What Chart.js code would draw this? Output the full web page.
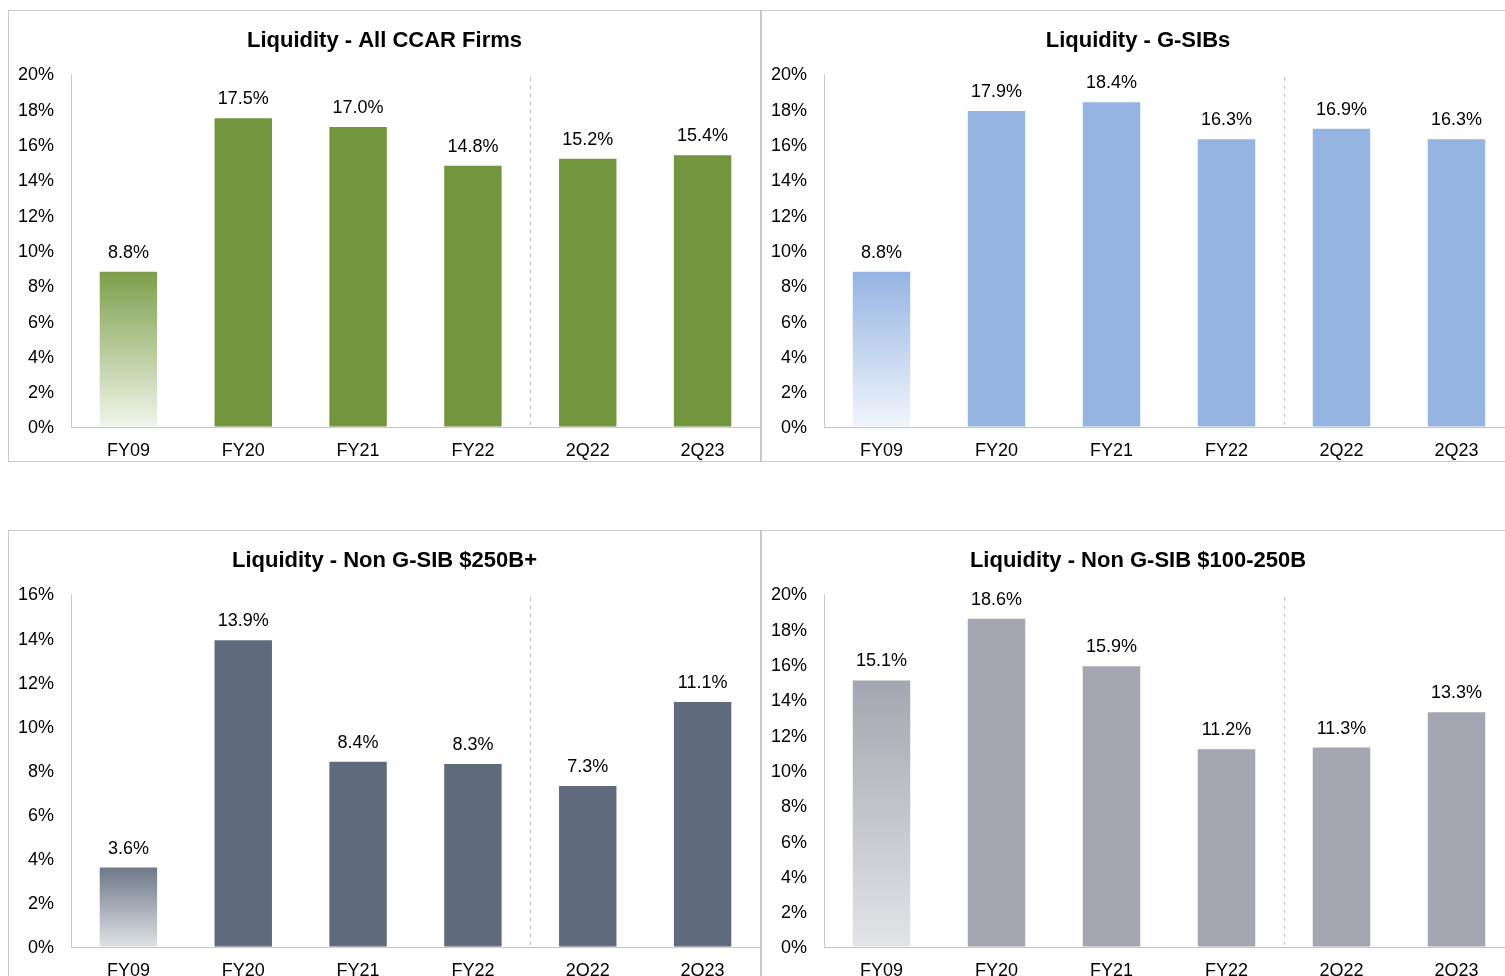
<!DOCTYPE html>
<html>
<head>
<meta charset="utf-8">
<script src="https://cdn.jsdelivr.net/npm/chart.js"></script>
<style>
    body { margin: 0; background: #fff; overflow: hidden; width: 1505px; height: 976px; position: relative; }
    .panel { position: absolute; border: 1px solid #c8c8c8; box-sizing: border-box; }
    canvas { position: absolute; }
</style>
</head>
<body>
<div class="panel" style="left:8px;top:10px;width:753px;height:452px;"></div>
<div class="panel" style="left:761px;top:10px;width:760px;height:452px;"></div>
<div class="panel" style="left:8px;top:530px;width:753px;height:460px;"></div>
<div class="panel" style="left:761px;top:530px;width:760px;height:460px;"></div>

<canvas id="allCcar" width="751" height="449" style="left:9px;top:11px;"></canvas>
<canvas id="gsibs" width="752" height="449" style="left:762px;top:11px;"></canvas>
<canvas id="nonGsib250" width="751" height="449" style="left:9px;top:531px;"></canvas>
<canvas id="nonGsib100" width="752" height="449" style="left:762px;top:531px;"></canvas>

<script>
    const labels = ['FY09', 'FY20', 'FY21', 'FY22', '2Q22', '2Q23'];
    const allCcarValues = [8.8, 17.5, 17.0, 14.8, 15.2, 15.4];
    const gsibValues = [8.8, 17.9, 18.4, 16.3, 16.9, 16.3];
    const nonGsib250Values = [3.6, 13.9, 8.4, 8.3, 7.3, 11.1];
    const nonGsib100Values = [15.1, 18.6, 15.9, 11.2, 11.3, 13.3];

    const FONT = '"Liberation Sans", Arial, sans-serif';

    // value labels above the bars
    const barLabels = {
        id: 'barLabels',
        afterDatasetsDraw(chart) {
            const ctx = chart.ctx;
            const ds = chart.data.datasets[0];
            ctx.save();
            ctx.font = '18px ' + FONT;
            ctx.fillStyle = '#000';
            ctx.textAlign = 'center';
            ctx.textBaseline = 'alphabetic';
            chart.getDatasetMeta(0).data.forEach((bar, i) => {
                ctx.fillText(ds.data[i].toFixed(1) + '%', bar.x, bar.y - 14);
            });
            ctx.restore();
        }
    };

    // dashed separator between annual and quarterly bars
    const splitLine = {
        id: 'splitLine',
        beforeDatasetsDraw(chart) {
            const xs = chart.scales.x, area = chart.chartArea, ctx = chart.ctx;
            const x = Math.round((xs.getPixelForValue(3) + xs.getPixelForValue(4)) / 2) + 0.5;
            ctx.save();
            ctx.strokeStyle = '#c4c4c4';
            ctx.lineWidth = 1;
            ctx.setLineDash([4, 4]);
            ctx.beginPath();
            ctx.moveTo(x, area.top + 3);
            ctx.lineTo(x, area.bottom);
            ctx.stroke();
            ctx.restore();
        }
    };

    function makeChart(id, title, values, yMax, color, fadeTop, fadeBottom) {
        new Chart(document.getElementById(id), {
            type: 'bar',
            data: {
                labels: labels,
                datasets: [{
                    data: values,
                    borderWidth: 0,
                    categoryPercentage: 1,
                    barPercentage: 0.5,
                    backgroundColor: (c) => {
                        if (c.dataIndex !== 0) return color;
                        const chart = c.chart;
                        if (!chart.chartArea) return fadeTop;
                        const top = chart.scales.y.getPixelForValue(values[0]);
                        const g = chart.ctx.createLinearGradient(0, top, 0, chart.chartArea.bottom);
                        g.addColorStop(0, fadeTop);
                        g.addColorStop(1, fadeBottom);
                        return g;
                    }
                }]
            },
            options: {
                responsive: false,
                animation: false,
                devicePixelRatio: 1,
                layout: { padding: 0 },
                plugins: {
                    legend: { display: false },
                    tooltip: { enabled: false },
                    title: {
                        display: true,
                        text: title,
                        color: '#000',
                        font: { family: FONT, size: 22, weight: 'bold' },
                        padding: { top: 17, bottom: 19.6 }
                    }
                },
                scales: {
                    x: {
                        grid: { drawOnChartArea: false, drawTicks: false },
                        border: { display: true, color: '#c8c8c8', width: 1 },
                        ticks: { color: '#000', font: { family: FONT, size: 18 }, padding: 13, maxRotation: 0 },
                        afterFit: (s) => { s.height = 33; }
                    },
                    y: {
                        min: 0,
                        max: yMax,
                        grid: { drawOnChartArea: false, drawTicks: false },
                        border: { display: true, color: '#c8c8c8', width: 1 },
                        ticks: {
                            stepSize: 2,
                            color: '#000',
                            padding: 17,
                            labelOffset: 1.5,
                            font: { family: FONT, size: 18 },
                            callback: (v) => v + '%'
                        },
                        afterFit: (s) => { s.width = 62; }
                    }
                }
            },
            plugins: [splitLine, barLabels]
        });
    }

    makeChart('allCcar', 'Liquidity - All CCAR Firms', allCcarValues, 20, '#72963d', '#7d9f4b', '#f1f5eb');
    makeChart('gsibs', 'Liquidity - G-SIBs', gsibValues, 20, '#95b4e2', '#95b4e2', '#f1f5fc');
    makeChart('nonGsib250', 'Liquidity - Non G-SIB $250B+', nonGsib250Values, 16, '#5f6b7c', '#6e7989', '#dfe1e5');
    makeChart('nonGsib100', 'Liquidity - Non G-SIB $100-250B', nonGsib100Values, 20, '#a4a6b1', '#a4a6b1', '#e3e4e7');
</script>
</body>
</html>
